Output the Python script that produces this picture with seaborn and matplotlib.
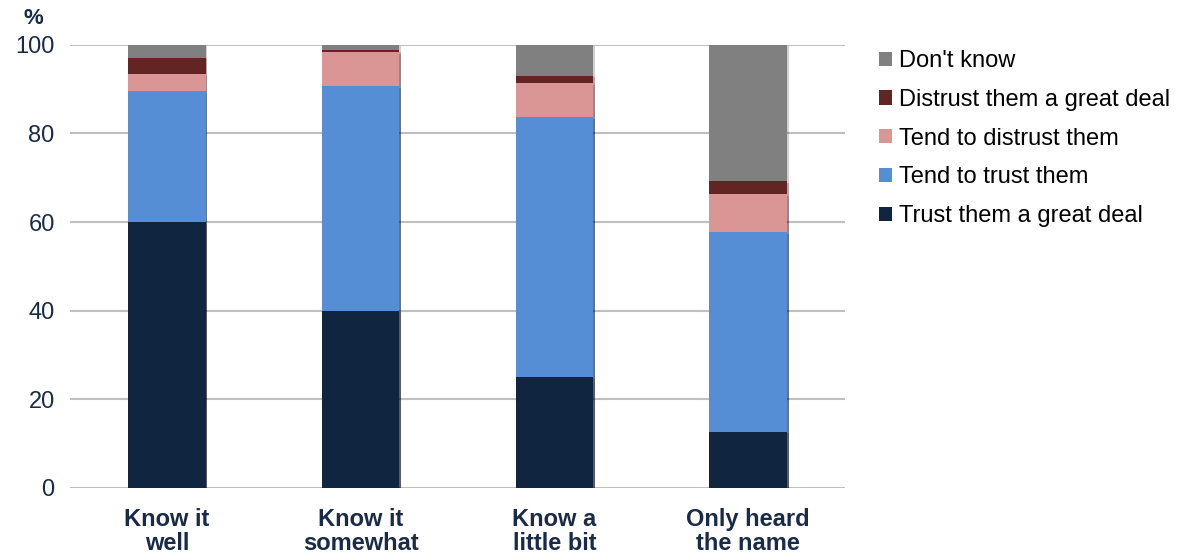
import numpy as np
import pandas as pd
import matplotlib
matplotlib.use("Agg")
import matplotlib.pyplot as plt
from matplotlib.patches import Patch
import matplotlib.patheffects as pe
import seaborn as sns

# Survey answers by level of familiarity (% of respondents)
categories = ["Know it\nwell", "Know it\nsomewhat", "Know a\nlittle bit", "Only heard\nthe name"]
trust_great_deal = [60.0, 40.0, 25.1, 12.7]
tend_to_trust = [29.5, 50.7, 58.5, 45.0]
tend_to_distrust = [3.8, 7.6, 7.7, 8.6]
distrust_great_deal = [3.8, 0.5, 1.7, 2.9]
dont_know = [2.9, 1.2, 7.0, 30.8]

series_names = ["Trust them a great deal", "Tend to trust them", "Tend to distrust them",
                "Distrust them a great deal", "Don't know"]
series_values = [trust_great_deal, tend_to_trust, tend_to_distrust, distrust_great_deal, dont_know]
series_colors = ["#10253F", "#558ED5", "#D99694", "#632523", "#808080"]

y_ticks = [0, 20, 40, 60, 80, 100]

sns.set_theme(style="white")
plt.rcParams["font.family"] = ["Liberation Sans", "DejaVu Sans"]

navy = "#1A2B47"
grid_grey = "#BFBFBF"

fig = plt.figure(figsize=(11.82, 5.56), dpi=100)
ax = fig.add_axes([70 / 1182, 1 - 488 / 556, 775 / 1182, (488 - 44.7) / 556])

# Stacked bars: draw cumulative totals from the tallest down
df = pd.DataFrame({name: vals for name, vals in zip(series_names, series_values)})
df["category"] = categories
cum = df[series_names].cumsum(axis=1)
shadow = [pe.SimplePatchShadow(offset=(1.2, -1.2), alpha=0.18, shadow_rgbFace="black"), pe.Normal()]
for name, color in reversed(list(zip(series_names, series_colors))):
    sns.barplot(x=df["category"], y=cum[name], color=color, width=0.4,
                saturation=1, ax=ax, zorder=3, order=categories)
for p in ax.patches:
    p.set_path_effects(shadow)
    p.set_linewidth(0)

ax.set_ylim(0, 100)
ax.set_xlim(-0.5, 3.5)
ax.set_yticks(y_ticks)
ax.yaxis.grid(True, color=grid_grey, linewidth=1.5, zorder=0)
ax.set_axisbelow(True)
for s in ax.spines.values():
    s.set_visible(False)
ax.set_xlabel("")
ax.set_ylabel("")
ax.tick_params(axis="y", length=0, pad=11, labelsize=17, labelcolor=navy)
ax.tick_params(axis="x", length=0, pad=14.5)
ax.set_xticks(range(len(categories)))
ax.set_xticklabels(categories, fontsize=17, fontweight="bold", color=navy, linespacing=1.06)
for lbl in ax.get_yticklabels():
    lbl.set_horizontalalignment("right")

fig.text(24 / 1182, 1 - 19 / 556, "%", fontsize=16, fontweight="bold", color=navy,
         ha="left", va="center")

handles = [Patch(facecolor=c, edgecolor="none", label=n)
           for n, c in zip(series_names, series_colors)][::-1]
leg = fig.legend(handles=handles, loc="upper left", bbox_to_anchor=(879 / 1182, 1 - 50 / 556),
                 frameon=False, fontsize=17, handlelength=0.55, handleheight=0.55,
                 handletextpad=0.28, labelspacing=0.71, borderaxespad=0, borderpad=0)
for t in leg.get_texts():
    t.set_color("black")

fig.savefig("out.png", dpi=100)
